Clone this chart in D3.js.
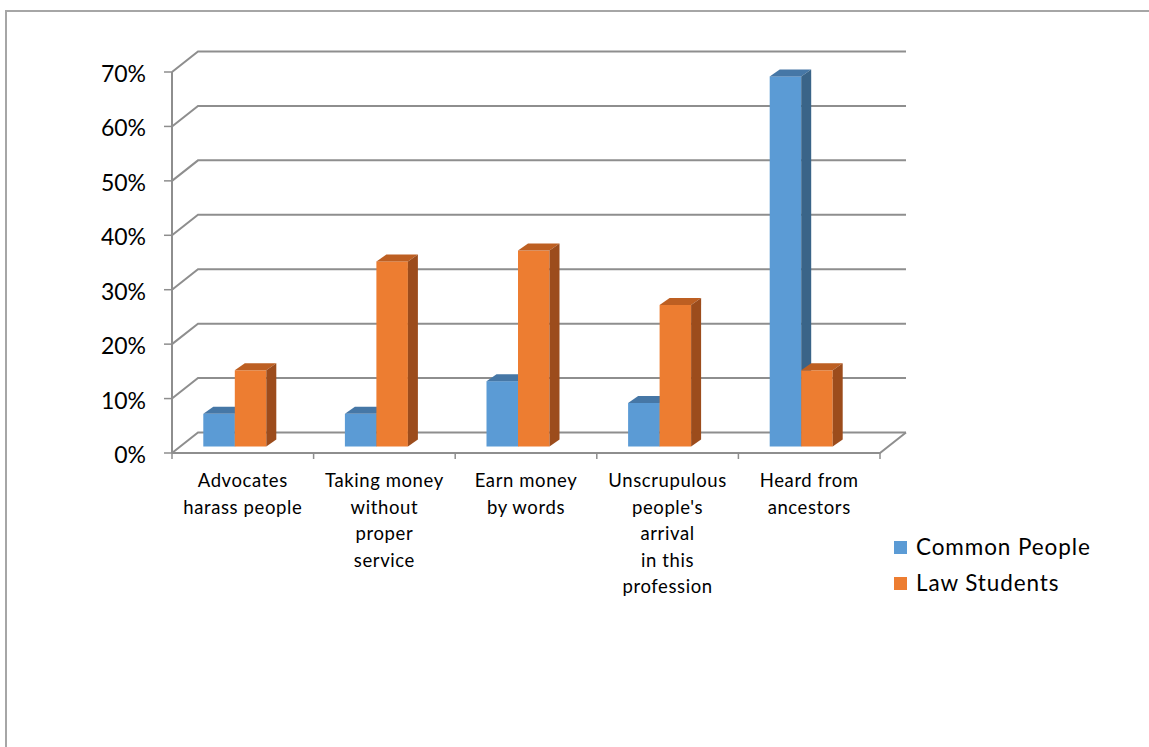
<!DOCTYPE html>
<html>
<head>
<meta charset="utf-8">
<script src="https://cdn.jsdelivr.net/npm/d3@7"></script>
<style>
  html, body { margin: 0; padding: 0; background: #fff; }
  svg { display: block; }
  text { font-family: Lato, "Open Sans", sans-serif; fill: #000; }
</style>
</head>
<body>
<svg id="chart" width="1149" height="747"></svg>
<script>
// Survey responses: reasons behind the negative perception of advocates
const categories = [
  "Advocates harass people",
  "Taking money without proper service",
  "Earn money by words",
  "Unscrupulous people's arrival in this profession",
  "Heard from ancestors"
];
const categoryLines = [
  ["Advocates", "harass people"],
  ["Taking money", "without", "proper", "service"],
  ["Earn money", "by words"],
  ["Unscrupulous", "people's", "arrival", "in this", "profession"],
  ["Heard from", "ancestors"]
];
const seriesNames = ["Common People", "Law Students"];
const commonPeople = [0.06, 0.06, 0.12, 0.08, 0.68];
const lawStudents = [0.14, 0.34, 0.36, 0.26, 0.14];
const yTicks = [0, 0.1, 0.2, 0.3, 0.4, 0.5, 0.6, 0.7];

const colors = {
  "Common People": { front: "#5B9BD5", top: "#4677A6", side: "#3A6488" },
  "Law Students":  { front: "#ED7D31", top: "#BD5F22", side: "#9C4C1C" }
};

const svg = d3.select("#chart");

// outer frame
svg.append("path")
  .attr("d", "M6,747 L6,11 L1149,11")
  .attr("fill", "none").attr("stroke", "#a6a6a6").attr("stroke-width", 2);

// scales
const x = d3.scaleBand().domain(categories).range([172, 880]);
const y = d3.scaleLinear().domain([0, 0.7]).range([453, 72]);

// 3D offsets: back wall depth and bar depth
const wall = { dx: 26, dy: -20.5 };
const barDepth = { dx: 10, dy: -7 };
const barInset = { dx: -8, dy: -6.5 }; // front face of bars relative to the front plane
const barW = 31.5;
const gridColor = "#8e8e8e";

// back wall gridlines with their diagonal links to the front axis
const grid = svg.append("g");
yTicks.forEach(t => {
  const y0 = y(t);
  const pts = [[x.range()[0], y0], [x.range()[0] + wall.dx, y0 + wall.dy], [x.range()[1] + wall.dx, y0 + wall.dy]];
  grid.append("path")
    .attr("d", d3.line()(pts))
    .attr("fill", "none").attr("stroke", gridColor).attr("stroke-width", 2);
});

// front vertical axis and its ticks/labels
const axisG = svg.append("g");
axisG.append("line")
  .attr("x1", 172).attr("x2", 172).attr("y1", y(0.7)).attr("y2", y(0))
  .attr("stroke", gridColor).attr("stroke-width", 2);
yTicks.forEach(t => {
  axisG.append("line")
    .attr("x1", 164).attr("x2", 172).attr("y1", y(t)).attr("y2", y(t))
    .attr("stroke", gridColor).attr("stroke-width", 1.5);
  axisG.append("text")
    .attr("x", 146).attr("y", y(t) + 10)
    .attr("text-anchor", "end")
    .attr("font-size", 23)
    .text(d3.format(".0%")(t));
});

// floor front edge and right edge
svg.append("path")
  .attr("d", d3.line()([[172, y(0)], [880, y(0)], [880 + wall.dx, y(0) + wall.dy]]))
  .attr("fill", "none").attr("stroke", gridColor).attr("stroke-width", 2);

// category ticks
const catTicks = categories.map(c => x(c)).concat([x.range()[1]]);
catTicks.forEach(tx => {
  svg.append("line")
    .attr("x1", tx).attr("x2", tx).attr("y1", y(0)).attr("y2", y(0) + 6)
    .attr("stroke", gridColor).attr("stroke-width", 1.5);
});

// bars
const bars = svg.append("g");
function drawBar(x0, v, c) {
  const yb = y(0) + barInset.dy;
  const yt = y(v) + barInset.dy;
  const x1 = x0 + barW;
  // front
  bars.append("rect")
    .attr("x", x0).attr("y", yt).attr("width", barW).attr("height", yb - yt)
    .attr("fill", c.front);
  // top
  bars.append("path")
    .attr("d", d3.line()([[x0, yt], [x0 + barDepth.dx, yt + barDepth.dy], [x1 + barDepth.dx, yt + barDepth.dy], [x1, yt]]) + "Z")
    .attr("fill", c.top);
  // side
  bars.append("path")
    .attr("d", d3.line()([[x1, yt], [x1 + barDepth.dx, yt + barDepth.dy], [x1 + barDepth.dx, yb + barDepth.dy], [x1, yb]]) + "Z")
    .attr("fill", c.side);
}
categories.forEach((cat, i) => {
  const cx = x(cat) + x.bandwidth() / 2 + barInset.dx;
  drawBar(cx - barW, commonPeople[i], colors["Common People"]);
  drawBar(cx, lawStudents[i], colors["Law Students"]);
});

// category labels
categories.forEach((cat, i) => {
  const t = svg.append("text")
    .attr("x", x(cat) + x.bandwidth() / 2)
    .attr("y", 487)
    .attr("text-anchor", "middle")
    .attr("font-size", 18.5)
    .attr("letter-spacing", 0.6);
  categoryLines[i].forEach((line, k) => {
    t.append("tspan")
      .attr("x", x(cat) + x.bandwidth() / 2)
      .attr("dy", k === 0 ? 0 : 26.5)
      .text(line);
  });
});

// legend
const legend = svg.append("g");
seriesNames.forEach((name, i) => {
  legend.append("rect")
    .attr("x", 894).attr("y", 541 + i * 36).attr("width", 13).attr("height", 13)
    .attr("fill", colors[name].front);
  legend.append("text")
    .attr("x", 916).attr("y", 555 + i * 36)
    .attr("font-size", 22.5)
    .attr("letter-spacing", 0.9)
    .text(name);
});
</script>
</body>
</html>
